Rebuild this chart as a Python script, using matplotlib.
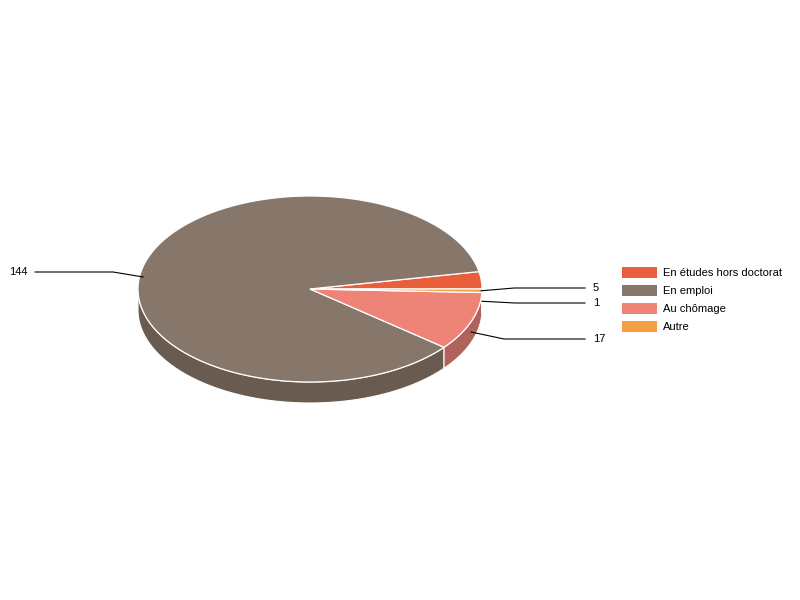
import numpy as np
import matplotlib
matplotlib.use("Agg")
import matplotlib.pyplot as plt
from matplotlib.patches import Polygon, Rectangle

plt.rcParams['font.family'] = ['Liberation Sans', 'DejaVu Sans']

# données
labels = ["En études hors doctorat", "En emploi", "Au chômage", "Autre"]
values = [5, 144, 17, 1]
top_colors = ["#E95E3B", "#87776A", "#EE8377", "#F5A040"]
side_colors = ["#A8432A", "#695B50", "#B0635A", "#B8782F"]

# géométrie du camembert (pixels)
cx, cy = 310, 289
rx, ry = 172, 93
depth = 21
start = 0.0

# positions des étiquettes
label_y = [288, 272, 339, 303]


def pt(t, dy=0):
    return cx + rx * np.cos(t), cy - ry * np.sin(t) + dy


fig = plt.figure(figsize=(8, 6), dpi=100)
ax = fig.add_axes([0, 0, 1, 1])
ax.set_xlim(0, 800)
ax.set_ylim(600, 0)
ax.axis("off")

total = sum(values)
angles = []
a = start
for v in values:
    span = 360.0 * v / total
    angles.append((a, a + span))
    a += span

# côtés (partie avant, angles entre 180 et 360)
for (a0, a1), c in zip(angles, side_colors):
    lo = max(a0, 180)
    hi = min(a1, 360)
    if hi <= lo:
        continue
    t = np.radians(np.linspace(lo, hi, 80))
    xs, ys = pt(t)
    verts = list(zip(xs, ys)) + list(zip(xs[::-1], ys[::-1] + depth))
    ax.add_patch(Polygon(verts, closed=True, facecolor=c,
                         edgecolor="white", linewidth=0.8, zorder=1))

# dessus
for (a0, a1), c in zip(angles, top_colors):
    t = np.radians(np.linspace(a0, a1, max(int(a1 - a0) * 2, 4)))
    xs, ys = pt(t)
    verts = [(cx, cy)] + list(zip(xs, ys))
    ax.add_patch(Polygon(verts, closed=True, facecolor=c,
                         edgecolor="white", linewidth=0.9, zorder=2))

# étiquettes avec traits de rappel
for (a0, a1), v, ly in zip(angles, values, label_y):
    m = np.radians((a0 + a1) / 2)
    x0, y0 = pt(m, depth / 2)
    if np.cos(m) >= 0:
        xe, xt = 585, 593
        xb = x0 + 33
        ha = "left"
    else:
        xe, xt = 35, 28
        xb = x0 - 30
        ha = "right"
    ax.plot([x0, xb, xe], [y0, ly, ly], color="black", linewidth=0.8, zorder=3)
    ax.text(xt, ly, str(v), ha=ha, va="center", fontsize=8, color="black")

# légende
for i, (lab, c) in enumerate(zip(labels, top_colors)):
    yc = 272.5 + 18 * i
    ax.add_patch(Rectangle((622, yc - 5.5), 35, 11, facecolor=c,
                           edgecolor="none", zorder=3))
    ax.text(663, yc, lab, ha="left", va="center", fontsize=8, color="black")

fig.savefig("out.png", dpi=100)
